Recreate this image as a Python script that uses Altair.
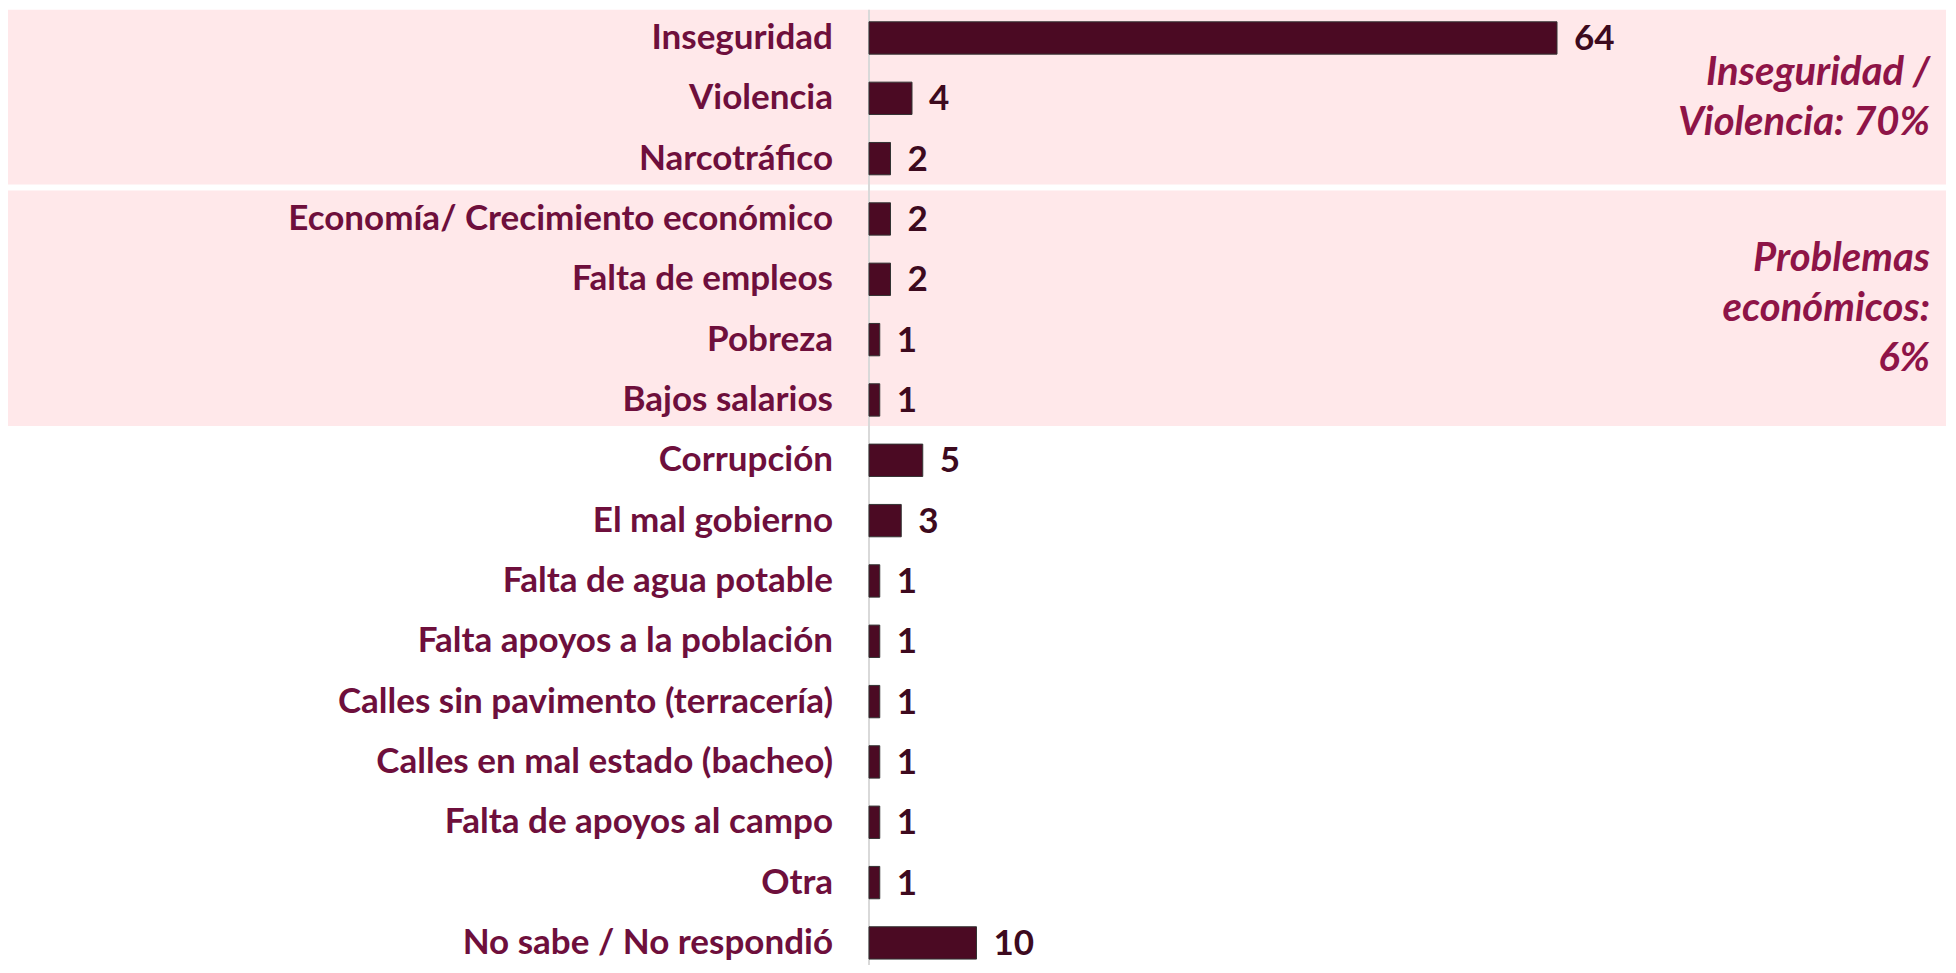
import altair as alt
import pandas as pd

categories = [
    "Inseguridad", "Violencia", "Narcotráfico",
    "Economía/ Crecimiento económico", "Falta de empleos", "Pobreza", "Bajos salarios",
    "Corrupción", "El mal gobierno", "Falta de agua potable",
    "Falta apoyos a la población", "Calles sin pavimento (terracería)",
    "Calles en mal estado (bacheo)", "Falta de apoyos al campo", "Otra",
    "No sabe / No respondió",
]
values = [64, 4, 2, 2, 2, 1, 1, 5, 3, 1, 1, 1, 1, 1, 1, 10]

group_labels = ["Inseguridad /\nViolencia: 70%", "Problemas\neconómicos:\n6%"]
group_first = ["Inseguridad", "Economía/ Crecimiento económico"]
group_last = ["Narcotráfico", "Bajos salarios"]

bars_df = pd.DataFrame({
    "categoria": categories,
    "valor": values,
    "idx": list(range(len(categories))),
})
groups_df = pd.DataFrame({
    "texto": group_labels,
    "lineas": [t.count("\n") + 1 for t in group_labels],
    "inicio": [categories.index(c) for c in group_first],
    "fin": [categories.index(c) for c in group_last],
})

FONT = "Lato"
BAR = "#4B0A23"
LABEL = "#6E0F3C"
ANNOT = "#8E1447"
PINK = "#FFE8EA"
LINE_H = 50
STEP = 60.33

xs = alt.Scale(domain=[0, 100], nice=False, zero=False)
ys = alt.Scale(domain=[-0.497, 15.366], reverse=True, nice=False, zero=False)

bg = alt.Chart(groups_df).transform_calculate(
    y0="datum.inicio - 0.47", y1="datum.fin + 0.43", xa="-80.5", xb="100.4"
).mark_rect(color=PINK, clip=False).encode(
    x=alt.X("xa:Q", scale=xs, axis=None),
    x2="xb:Q",
    y=alt.Y("y0:Q", scale=ys, axis=None),
    y2="y1:Q",
)

axis_line = alt.Chart(bars_df).transform_aggregate(
    lo="min(idx)", hi="max(idx)"
).transform_calculate(
    a="datum.lo - 0.47", b="datum.hi + 0.6", x0="0"
).mark_rule(color="#D9D9D9", strokeWidth=2).encode(
    x=alt.X("x0:Q", scale=xs, axis=None),
    y=alt.Y("a:Q", scale=ys, axis=None),
    y2="b:Q",
)

bars = alt.Chart(bars_df).transform_calculate(
    y0="datum.idx - 0.268", y1="datum.idx + 0.268", x0="0"
).mark_rect(color=BAR, stroke="#333333", strokeWidth=1).encode(
    x=alt.X("x0:Q", scale=xs, axis=None),
    x2="valor:Q",
    y=alt.Y("y0:Q", scale=ys, axis=None),
    y2="y1:Q",
)

cat_text = alt.Chart(bars_df).transform_calculate(x0="0").mark_text(
    align="right", baseline="middle", dx=-36, font=FONT, fontWeight="bold",
    fontSize=35, color=LABEL, clip=False
).encode(
    x=alt.X("x0:Q", scale=xs, axis=None),
    y=alt.Y("idx:Q", scale=ys, axis=None),
    text="categoria:N",
)

val_text = alt.Chart(bars_df).mark_text(
    align="left", baseline="middle", dx=17, dy=1, font=FONT, fontWeight="bold",
    fontSize=35, color="#3D0A1E"
).encode(
    x=alt.X("valor:Q", scale=xs, axis=None),
    y=alt.Y("idx:Q", scale=ys, axis=None),
    text="valor:Q",
)

annot = alt.Chart(groups_df).transform_calculate(
    yc=f"(datum.inicio + datum.fin) / 2 - (datum.lineas - 1) / 2 * {LINE_H / STEP}",
    xr="100",
).mark_text(
    align="right", baseline="middle", dx=-14, font=FONT, fontWeight="bold",
    fontStyle="italic", fontSize=40, lineHeight=LINE_H, lineBreak="\n", color=ANNOT
).encode(
    x=alt.X("xr:Q", scale=xs, axis=None),
    y=alt.Y("yc:Q", scale=ys, axis=None),
    text="texto:N",
)

chart = alt.layer(bg, axis_line, bars, cat_text, val_text, annot).properties(
    width=1075,
    height=957,
    autosize=alt.AutoSizeParams(type="none"),
    padding={"left": 861, "top": 0, "right": 2, "bottom": 0},
    background="white",
).configure_view(stroke=None)

chart.save("out.html", embed_options={"renderer": "svg", "actions": False})
